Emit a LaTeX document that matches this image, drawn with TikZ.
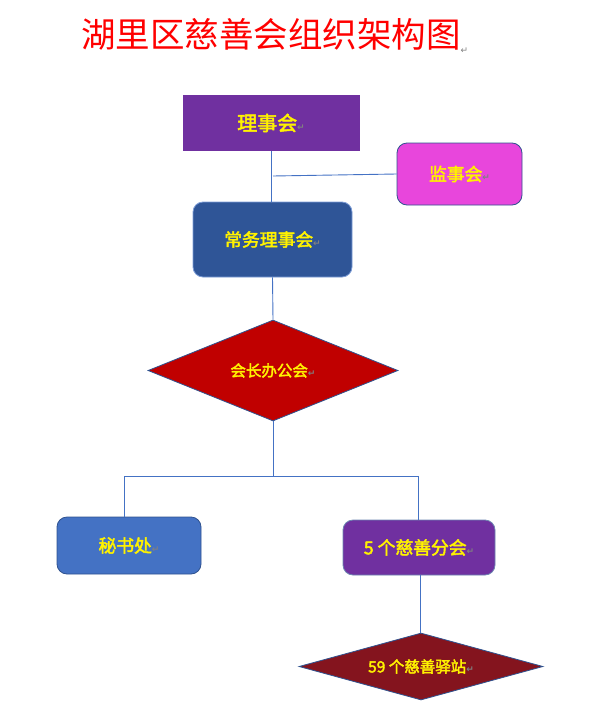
\documentclass[tikz,border=0pt]{standalone}
\usepackage{fontspec}
\newfontfamily\cjk{Noto Sans CJK SC}[AutoFakeBold=2.5]
\newfontfamily\cjkl{Noto Sans CJK SC}
\newfontfamily\dejavu{DejaVu Sans}
\usetikzlibrary{shapes.geometric}
\definecolor{ln}{HTML}{4472C4}
\definecolor{bd}{HTML}{2F528F}
\definecolor{purp}{HTML}{7030A0}
\definecolor{mag}{HTML}{E846DC}
\definecolor{navy}{HTML}{2F5597}
\definecolor{red1}{HTML}{C00000}
\definecolor{red2}{HTML}{84141E}
\definecolor{mid}{HTML}{4472C4}
\newcommand{\rt}{{\dejavu\fontsize{9}{9}\selectfont\color{gray}↵}}
\tikzset{
  box/.style={draw=bd, line width=0.8pt, rounded corners=10pt, inner sep=0pt, text=yellow, font=\cjk\bfseries\fontsize{17.8}{18}\selectfont},
  dia/.style={diamond, draw=bd, line width=0.8pt, inner sep=0pt, text=yellow, font=\cjk\bfseries\fontsize{15.5}{16}\selectfont},
  conn/.style={draw=ln, line width=0.9pt}
}
\begin{document}
\begin{tikzpicture}[x=1pt,y=-1pt]
\useasboundingbox (0,0) rectangle (594,728);
\node[anchor=west, text=red, font=\cjkl\fontsize{34.5}{35}\selectfont, inner sep=0pt] (title) at (81,36) {湖里区慈善会组织架构图\raisebox{-6pt}{\rt}};
\node[box, rounded corners=0pt, draw=none, fill=purp, minimum width=177pt, minimum height=56pt, font=\cjk\bfseries\fontsize{20}{20}\selectfont] (lsh) at (271,123) {理事会\rt};
\node[box, fill=mag, minimum width=125pt, minimum height=62pt] (jsh) at (459.5,174) {监事会\rt};
\node[box, fill=navy, draw=mid!70!white, minimum width=159pt, minimum height=75pt] (cw) at (272.5,239.5) {常务理事会\rt};
\node[dia, aspect=2.5, fill=red1, minimum width=250pt, minimum height=101pt] (hz) at (273,370.5) {会长办公会\rt};
\node[box, fill=mid, draw=bd, minimum width=144pt, minimum height=57pt] (msc) at (129,545.5) {秘书处\rt};
\node[box, fill=purp, draw=bd!70!white, minimum width=152pt, minimum height=55pt] (fh) at (419,547.5) {5 个慈善分会\rt};
\node[dia, aspect=3.64, fill=red2, minimum width=244pt, minimum height=67pt] (yz) at (421,666.5) {59 个慈善驿站\rt};
\coordinate (j1) at (273,176);
\coordinate (b0) at (273,476);
\coordinate (bl) at (124,476);
\coordinate (br) at (418,476);
\draw[conn] (271,151) -- (271,202);
\draw[conn] (j1) -- (jsh.west);
\draw[conn] (cw.south) -- (hz.north);
\draw[conn] (hz.south) -- (b0);
\draw[conn] (bl) -- (br);
\draw[conn] (bl) -- (bl |- msc.north);
\draw[conn] (br) -- (br |- fh.north);
\draw[conn] (420,575) -- (yz.north -| 420,0);
\end{tikzpicture}
\end{document}
